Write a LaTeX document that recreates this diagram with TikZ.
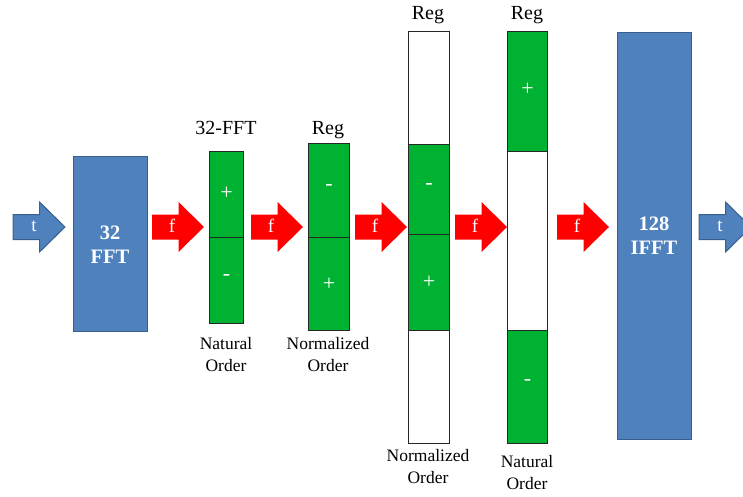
\documentclass[tikz,border=0pt]{standalone}
\usepackage{fontspec}
\setmainfont{Liberation Serif}
\definecolor{fftblue}{HTML}{4F81BD}
\definecolor{fftedge}{HTML}{3A5F8C}
\definecolor{bingreen}{HTML}{00B232}
\definecolor{flowred}{HTML}{FF0000}
\begin{document}
\begin{tikzpicture}[x=1pt,y=-1pt,
  % block arrow: tail at the pic origin, pointing right, 52 long
  blockarr/.pic={
    \path[pic actions] (0,-12.5) -- (26.5,-12.5) -- (26.5,-25) -- (52,0)
      -- (26.5,25) -- (26.5,12.5) -- (0,12.5) -- cycle;
  },
  redarr/.style={fill=flowred},
  bluearr/.style={fill=fftblue,draw=fftedge,line width=1pt},
  arrtext/.style={text=white,font=\fontsize{19}{19}\selectfont,inner sep=0pt},
  cell/.style={draw=black!85,line width=1pt,anchor=north west,inner sep=0pt,
    minimum width=#1},
  gcell/.style={cell=#1,fill=bingreen},
  wcell/.style={cell=#1,fill=white},
  sign/.style={text=white,font=\fontsize{22}{22}\selectfont},
  block/.style={fill=fftblue,draw=fftedge,line width=1pt,anchor=north west,
    inner sep=0pt},
  blocktext/.style={text=white,font=\bfseries\fontsize{20.5}{24}\selectfont,
    align=center},
  toplabel/.style={font=\fontsize{20}{20}\selectfont,inner sep=0pt},
  botlabel/.style={font=\fontsize{17.5}{22}\selectfont,align=center,inner sep=0pt},
]
\useasboundingbox (0,0) rectangle (743,497);
\clip (0,0) rectangle (743,497);

% time-domain input arrow
\pic[bluearr] at (13,227) {blockarr};
\node[arrtext] (tin) at (34,226) {t};

% 32-point FFT block
\node[block,minimum width=74pt,minimum height=175pt] (fft) at (73,156) {};
\node[blocktext] (fftlbl) at (110,245) {32\\FFT};

% frequency-domain arrows
\pic[redarr] at (152,227) {blockarr};
\node[arrtext] (f1) at (172,226) {f};
\pic[redarr] at (251,227) {blockarr};
\node[arrtext] (f2) at (271,226) {f};
\pic[redarr] at (355,227) {blockarr};
\node[arrtext] (f3) at (375,226) {f};
\pic[redarr] at (455,227) {blockarr};
\node[arrtext] (f4) at (475,226) {f};
\pic[redarr] at (557,227) {blockarr};
\node[arrtext] (f5) at (577,226) {f};

% 32-FFT output, natural order
\node[gcell=34pt,minimum height=86pt] (a1) at (209,151) {};
\node[gcell=34pt,minimum height=86pt] (a2) at (209,237) {};
\node[sign] at ([yshift=1pt]a1.center) {+};
\node[sign] at ([yshift=3pt]a2.center) {-};
\node[toplabel] (alab) at (226,128) {32-FFT};
\node[botlabel,anchor=north] (ablab) at (226,337) {Natural\\Order};

% register, normalized order
\node[gcell=41pt,minimum height=94pt] (b1) at (308,143) {};
\node[gcell=41pt,minimum height=93pt] (b2) at (308,237) {};
\node[sign] at ([yshift=3pt]b1.center) {-};
\node[sign] at (b2.center) {+};
\node[toplabel] (blab) at (328,130) {Reg};
\node[botlabel,anchor=north] (bblab) at (328,337) {Normalized\\Order};

% zero-padded register, normalized order
\node[wcell=41pt,minimum height=113pt] (c1) at (408,31) {};
\node[gcell=41pt,minimum height=90pt] (c2) at (408,144) {};
\node[gcell=41pt,minimum height=96pt] (c3) at (408,234) {};
\node[wcell=41pt,minimum height=113pt] (c4) at (408,330) {};
\node[sign] at ([yshift=3pt]c2.center) {-};
\node[sign] at (c3.center) {+};
\node[toplabel] (clab) at (428,15) {Reg};
\node[botlabel,anchor=north] (cblab) at (428,449) {Normalized\\Order};

% zero-padded register, natural order
\node[gcell=40pt,minimum height=120pt] (d1) at (507,31) {};
\node[wcell=40pt,minimum height=179pt] (d2) at (507,151) {};
\node[gcell=40pt,minimum height=113pt] (d3) at (507,330) {};
\node[sign] at ([yshift=2pt]d1.center) {+};
\node[sign] at ([yshift=5pt]d3.center) {-};
\node[toplabel] (dlab) at (527,15) {Reg};
\node[botlabel,anchor=north] (dblab) at (527,455) {Natural\\Order};

% 128-point IFFT block
\node[block,minimum width=74pt,minimum height=407pt] (ifft) at (617,32) {};
\node[blocktext] (ifftlbl) at (654,236) {128\\IFFT};

% time-domain output arrow
\pic[bluearr] at (699,227) {blockarr};
\node[arrtext] (tout) at (720,226) {t};
\end{tikzpicture}
\end{document}
